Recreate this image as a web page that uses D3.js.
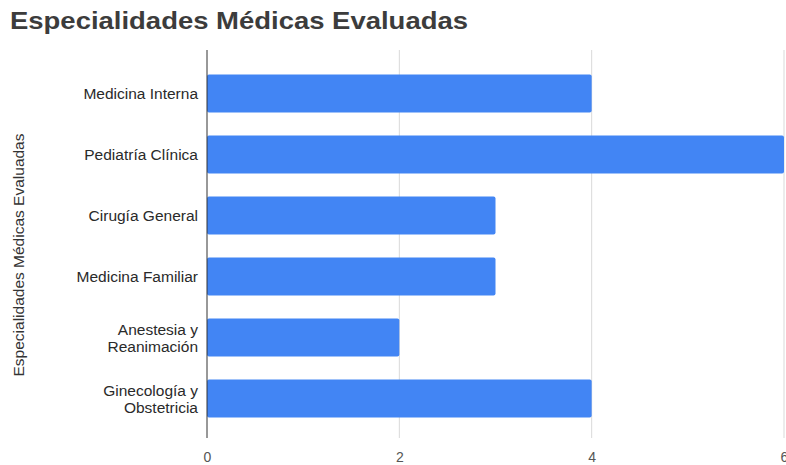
<!DOCTYPE html>
<html>
<head>
<meta charset="utf-8">
<script src="https://cdn.jsdelivr.net/npm/d3@7"></script>
<style>
  body { margin: 0; background: #fff; }
  svg { display: block; font-family: Arial, "Liberation Sans", sans-serif; }
</style>
</head>
<body>
<div id="chart-area"></div>
<script>
// chart data
const categories = [
    ['Medicina Interna'],
    ['Pediatría Clínica'],
    ['Cirugía General'],
    ['Medicina Familiar'],
    ['Anestesia y', 'Reanimación'],
    ['Ginecología y', 'Obstetricia']
];
const values = [4, 6, 3, 3, 2, 4];
const ticks = [0, 2, 4, 6];

const width = 786;
const height = 465;

const svg = d3.select('#chart-area').append('svg')
    .attr('width', width)
    .attr('height', height)

// title
svg.append('text')
    .attr('x', 10)
    .attr('y', 29)
    .attr('font-size', '24px')
    .attr('font-weight', 'bold')
    .attr('fill', '#3c3c3c')
    .attr('textLength', 458)
    .attr('lengthAdjust', 'spacingAndGlyphs')
    .text('Especialidades Médicas Evaluadas')

const x = d3.scaleLinear()
    .domain([0, 6])
    .range([207, 784]);

const y = d3.scaleBand()
    .domain(d3.range(categories.length))
    .range([63, 429])
    .paddingInner(0.38)
    .paddingOuter(0.19);

// grid lines
svg.append('g')
    .selectAll('line')
    .data(ticks.slice(1))
    .enter().append('line')
    .attr('x1', d => x(d))
    .attr('x2', d => x(d))
    .attr('y1', 50)
    .attr('y2', 438)
    .attr('stroke', '#d9d9d9')
    .attr('stroke-width', 1)

// bars
svg.append('g')
    .selectAll('rect')
    .data(values)
    .enter().append('rect')
    .attr('x', x(0))
    .attr('y', (d, i) => y(i))
    .attr('width', d => x(d) - x(0))
    .attr('height', y.bandwidth())
    .attr('rx', 2)
    .attr('fill', '#4285f4')

// baseline at zero
svg.append('line')
    .attr('x1', x(0))
    .attr('x2', x(0))
    .attr('y1', 50)
    .attr('y2', 438)
    .attr('stroke', '#333')
    .attr('stroke-width', 1)

// category labels
const labels = svg.append('g')
    .selectAll('text')
    .data(categories)
    .enter().append('text')
    .attr('text-anchor', 'end')
    .attr('font-size', '15.5px')
    .attr('fill', '#2a2a2a')
    .attr('transform', (d, i) => `translate(198, ${y(i) + y.bandwidth() / 2})`)

labels.selectAll('tspan')
    .data(d => d)
    .enter().append('tspan')
    .attr('x', 0)
    .attr('y', (d, i, n) => (i - (n.length - 1) / 2) * 17 + 5.5)
    .text(d => d)

// x axis tick labels
const xAxis = d3.axisBottom(x)
    .tickValues(ticks)
    .tickFormat(d3.format('d'))
    .tickSize(0)
    .tickPadding(12);

const xAxisGroup = svg.append('g')
    .attr('transform', 'translate(0, 440)')
    .call(xAxis)

xAxisGroup.select('.domain').remove()
xAxisGroup.selectAll('text')
    .attr('font-size', '14px')
    .attr('font-family', 'Arial, "Liberation Sans", sans-serif')
    .attr('fill', '#555')

// y axis title
svg.append('text')
    .attr('transform', 'translate(24, 255) rotate(-90)')
    .attr('text-anchor', 'middle')
    .attr('font-size', '15.5px')
    .attr('fill', '#333')
    .text('Especialidades Médicas Evaluadas')
</script>
</body>
</html>
